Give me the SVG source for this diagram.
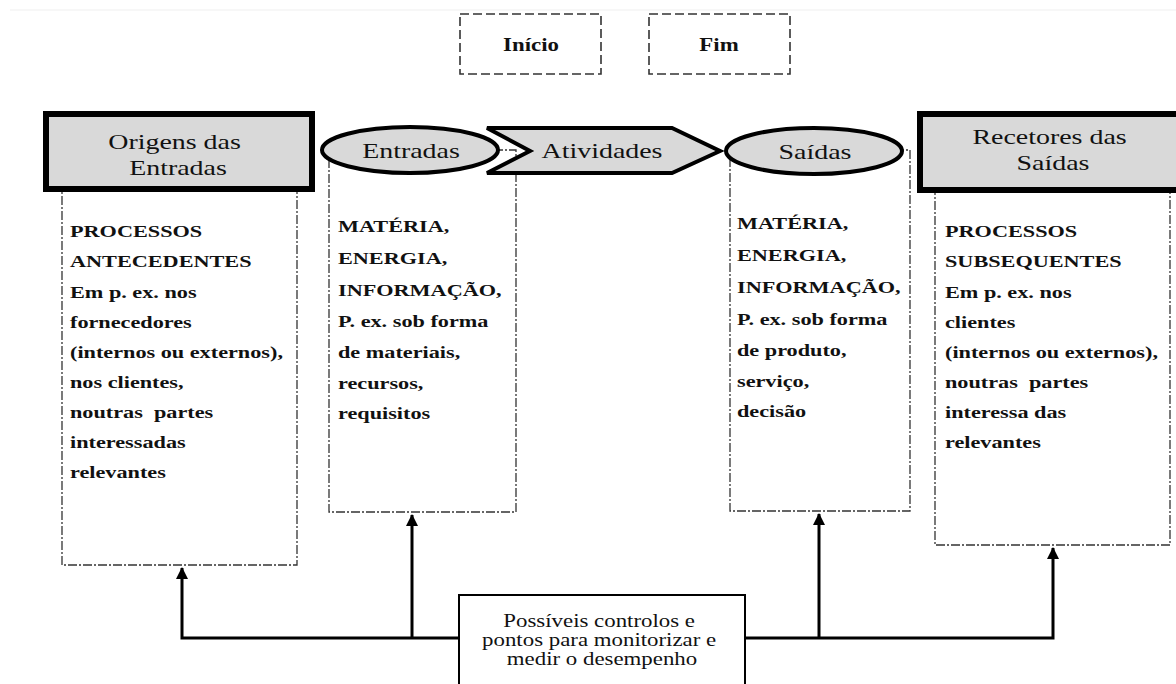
<svg xmlns="http://www.w3.org/2000/svg" width="1176" height="684" viewBox="0 0 1176 684">
<defs>
<style>
.t{font-family:"Liberation Serif","Times New Roman",serif;fill:#111;}
.b{font-weight:bold;font-size:17.5px;}
.h{font-size:22px;}
.s{font-size:18px;}
.se{font-size:18px;font-weight:bold;}
.dd{fill:none;stroke:#333;stroke-width:1.3;stroke-dasharray:9 2 2 2;}
.dash{fill:#fff;stroke:#333;stroke-width:1.6;stroke-dasharray:9 4;}
.thick{fill:#d9d9d9;stroke:#000;stroke-width:6;}
.shape{fill:#d9d9d9;stroke:#000;stroke-width:4;}
.con{fill:none;stroke:#000;stroke-width:3;}
</style>
<marker id="ah" markerWidth="12" markerHeight="12" viewBox="0 0 12 12" refX="11" refY="6" orient="auto" markerUnits="userSpaceOnUse">
<path d="M0,0 L12,6 L0,12 Z" fill="#000"/>
</marker>
</defs>
<rect width="1176" height="684" fill="#fff"/>
<line x1="10" y1="10" x2="1176" y2="10" stroke="#efefef" stroke-width="1"/>

<g id="inicio">
<rect class="dash" x="460" y="14" width="141" height="60"/>
<text class="t se" text-anchor="middle" transform="translate(531,51) scale(1.27,1)">Início</text>
</g>
<g id="fim">
<rect class="dash" x="649" y="14" width="141" height="60"/>
<text class="t se" text-anchor="middle" transform="translate(719,51) scale(1.27,1)">Fim</text>
</g>

<g id="box-antecedentes">
<rect class="dd" x="62" y="150" width="235" height="415"/>
<text class="t b" transform="translate(70,0) scale(1.27,1)">
<tspan x="0" y="237">PROCESSOS</tspan>
<tspan x="0" y="267">ANTECEDENTES</tspan>
<tspan x="0" y="298">Em p. ex. nos</tspan>
<tspan x="0" y="328">fornecedores</tspan>
<tspan x="0" y="358">(internos ou externos),</tspan>
<tspan x="0" y="388">nos clientes,</tspan>
<tspan x="0" y="418" xml:space="preserve">noutras  partes</tspan>
<tspan x="0" y="448">interessadas</tspan>
<tspan x="0" y="478">relevantes</tspan>
</text>
</g>

<g id="box-entradas">
<rect class="dd" x="329" y="150" width="187" height="362"/>
<text class="t b" transform="translate(338,0) scale(1.27,1)">
<tspan x="0" y="232">MATÉRIA,</tspan>
<tspan x="0" y="264">ENERGIA,</tspan>
<tspan x="0" y="296">INFORMAÇÃO,</tspan>
<tspan x="0" y="327">P. ex. sob forma</tspan>
<tspan x="0" y="358">de materiais,</tspan>
<tspan x="0" y="389">recursos,</tspan>
<tspan x="0" y="419">requisitos</tspan>
</text>
</g>

<g id="box-saidas">
<rect class="dd" x="730" y="150" width="180" height="361"/>
<text class="t b" transform="translate(737,0) scale(1.27,1)">
<tspan x="0" y="229">MATÉRIA,</tspan>
<tspan x="0" y="261">ENERGIA,</tspan>
<tspan x="0" y="293">INFORMAÇÃO,</tspan>
<tspan x="0" y="325">P. ex. sob forma</tspan>
<tspan x="0" y="356">de produto,</tspan>
<tspan x="0" y="387">serviço,</tspan>
<tspan x="0" y="417">decisão</tspan>
</text>
</g>

<g id="box-subsequentes">
<rect class="dd" x="935" y="150" width="235" height="395"/>
<text class="t b" transform="translate(945,0) scale(1.27,1)">
<tspan x="0" y="237">PROCESSOS</tspan>
<tspan x="0" y="267">SUBSEQUENTES</tspan>
<tspan x="0" y="298">Em p. ex. nos</tspan>
<tspan x="0" y="328">clientes</tspan>
<tspan x="0" y="358">(internos ou externos),</tspan>
<tspan x="0" y="388" xml:space="preserve">noutras  partes</tspan>
<tspan x="0" y="418">interessa das</tspan>
<tspan x="0" y="448">relevantes</tspan>
</text>
</g>

<g id="origens">
<rect class="thick" x="46" y="114" width="266" height="75"/>
<text class="t h" text-anchor="middle" transform="translate(178,0) scale(1.27,1)">
<tspan x="0" y="149">Origens das</tspan>
<tspan x="0" y="175">Entradas</tspan>
</text>
</g>

<g id="entradas">
<ellipse class="shape" cx="410" cy="150" rx="88" ry="23"/>
<text class="t h" text-anchor="middle" transform="translate(411,158) scale(1.27,1)">Entradas</text>
</g>

<g id="atividades">
<polygon class="shape" points="487,128 672,128 720,151 672,173 487,173 530,151"/>
<text class="t h" text-anchor="middle" transform="translate(602,158) scale(1.27,1)">Atividades</text>
</g>

<g id="saidas">
<ellipse class="shape" cx="814" cy="151" rx="88" ry="23"/>
<text class="t h" text-anchor="middle" transform="translate(815,159) scale(1.27,1)">Saídas</text>
</g>

<g id="recetores">
<rect class="thick" x="920" y="114" width="262" height="76"/>
<text class="t h" text-anchor="middle" transform="translate(1053,0) scale(1.27,1)">
<tspan x="0" y="144">Recetores das</tspan>
<tspan x="0" y="170">Saídas</tspan>
</text>
</g>

<g id="connectors">
<path class="con" d="M458,638 H182 V568" marker-end="url(#ah)"/>
<path class="con" d="M412,638 V515" marker-end="url(#ah)"/>
<path class="con" d="M745,638 H1053 V548" marker-end="url(#ah)"/>
<path class="con" d="M819,638 V514" marker-end="url(#ah)"/>
</g>

<g id="controlos">
<rect x="459" y="595" width="286" height="100" fill="#fff" stroke="#000" stroke-width="2"/>
<text class="t s" text-anchor="middle" transform="translate(602,0) scale(1.27,1)">
<tspan x="0" y="627">Possíveis controlos e</tspan>
<tspan x="0" y="646">pontos para monitorizar e</tspan>
<tspan x="0" y="665">medir o desempenho</tspan>
</text>
</g>
</svg>
